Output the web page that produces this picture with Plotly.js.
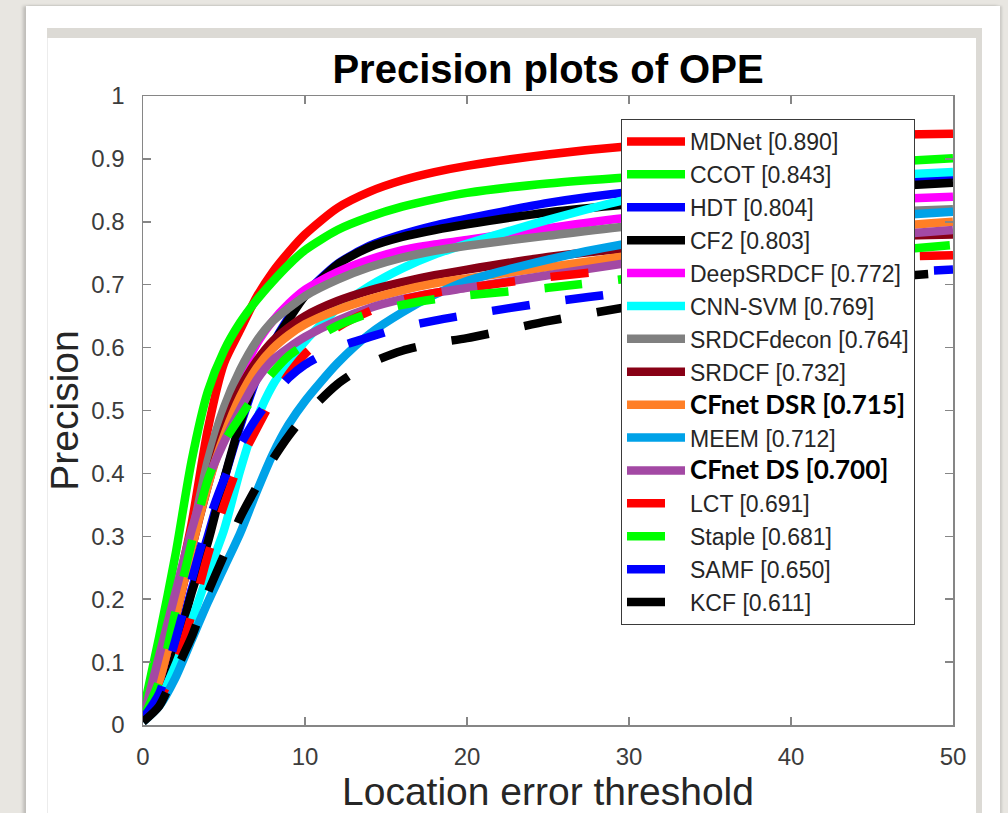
<!DOCTYPE html>
<html>
<head>
<meta charset="utf-8">
<script src="https://cdn.plot.ly/plotly-3.0.1.min.js"></script>
<style>
  html, body { margin: 0; padding: 0; width: 1008px; height: 813px; overflow: hidden; background: #e8e6e1; }
  .card { position: absolute; left: 26px; top: 6px; width: 974px; height: 820px; background: #ffffff;
          box-shadow: -3px 0 3px rgba(0,0,0,0.18), 2px 0 2px rgba(0,0,0,0.12); }
  .bandTop { position: absolute; left: 47px; top: 28px; width: 935px; height: 10px; background: #dcdad5; }
  .bandRight { position: absolute; left: 976px; top: 28px; width: 6px; height: 800px; background: #dcdad5; }
  .innerLeft { position: absolute; left: 47px; top: 38px; width: 1px; height: 800px; background: #ececec; }
  #chart { position: absolute; left: 0; top: 0; width: 1008px; height: 813px; }
</style>
</head>
<body>
<div class="card"></div>
<div class="bandTop"></div>
<div class="bandRight"></div>
<div class="innerLeft"></div>
<div id="chart"></div>
<script>
// Location error thresholds (x)
const thresholds = [0,1,2,3,4,5,6,7,8,9,10,12,14,16,18,20,25,30,35,40,45,50];

// Tracker names, scores, styles
const trackers = ['MDNet','CCOT','HDT','CF2','DeepSRDCF','CNN-SVM','SRDCFdecon','SRDCF','CFnet DSR','MEEM','CFnet DS','LCT','Staple','SAMF','KCF'];
const scores   = [0.890,0.843,0.804,0.803,0.772,0.769,0.764,0.732,0.715,0.712,0.700,0.691,0.681,0.650,0.611];
const colors   = ['#ff0000','#00ff00','#0000ff','#000000','#ff00ff','#00ffff','#808080','#880015','#ff7f27','#00a2e8','#a349a4','#ff0000','#00ff00','#0000ff','#000000'];
const dashed   = [false,false,false,false,false,false,false,false,false,false,false,true,true,true,true];
const boldName = [false,false,false,false,false,false,false,false,true,false,true,false,false,false,false];

// Precision values per tracker
const MDNet      = [0.01,0.08,0.20,0.32,0.47,0.575,0.628,0.68,0.72,0.752,0.78,0.822,0.848,0.866,0.879,0.889,0.907,0.92,0.928,0.934,0.938,0.94];
const CCOT       = [0.02,0.14,0.27,0.42,0.53,0.595,0.64,0.675,0.705,0.732,0.755,0.787,0.808,0.824,0.836,0.846,0.861,0.871,0.879,0.887,0.894,0.901];
const HDT        = [0.01,0.05,0.12,0.215,0.30,0.39,0.475,0.55,0.605,0.648,0.685,0.733,0.762,0.78,0.794,0.805,0.83,0.847,0.857,0.864,0.869,0.873];
const CF2        = [0.01,0.04,0.115,0.21,0.29,0.39,0.48,0.555,0.605,0.645,0.682,0.732,0.76,0.776,0.787,0.796,0.815,0.828,0.838,0.847,0.855,0.862];
const DeepSRDCF  = [0.01,0.07,0.17,0.28,0.39,0.48,0.55,0.605,0.642,0.67,0.692,0.72,0.74,0.755,0.764,0.771,0.79,0.807,0.818,0.828,0.835,0.84];
const CNNSVM     = [0.01,0.04,0.095,0.165,0.24,0.31,0.405,0.485,0.54,0.578,0.61,0.662,0.698,0.726,0.748,0.765,0.803,0.836,0.855,0.866,0.873,0.879];
const SRDCFdecon = [0.01,0.08,0.19,0.30,0.42,0.505,0.565,0.61,0.642,0.663,0.682,0.708,0.728,0.743,0.754,0.762,0.778,0.793,0.803,0.81,0.815,0.82];
const SRDCF      = [0.01,0.07,0.17,0.28,0.38,0.47,0.535,0.578,0.61,0.632,0.65,0.674,0.691,0.704,0.715,0.724,0.744,0.758,0.767,0.773,0.777,0.78];
const CFnetDSR   = [0.01,0.07,0.17,0.28,0.38,0.46,0.522,0.567,0.598,0.62,0.637,0.66,0.677,0.691,0.702,0.71,0.728,0.746,0.762,0.777,0.79,0.80];
const MEEM       = [0.005,0.03,0.075,0.135,0.195,0.25,0.305,0.37,0.43,0.478,0.515,0.575,0.622,0.656,0.684,0.706,0.74,0.766,0.784,0.798,0.808,0.816];
const CFnetDS    = [0.01,0.11,0.21,0.31,0.39,0.45,0.502,0.548,0.58,0.6,0.617,0.643,0.663,0.677,0.687,0.695,0.715,0.735,0.752,0.765,0.777,0.787];
const LCT        = [0.01,0.04,0.095,0.175,0.27,0.35,0.42,0.47,0.518,0.558,0.59,0.632,0.658,0.676,0.687,0.695,0.712,0.725,0.733,0.74,0.744,0.747];
const Staple     = [0.01,0.07,0.18,0.29,0.39,0.45,0.49,0.528,0.56,0.587,0.605,0.635,0.655,0.668,0.677,0.683,0.695,0.71,0.725,0.74,0.752,0.763];
const SAMF       = [0.01,0.05,0.135,0.23,0.32,0.39,0.445,0.488,0.523,0.552,0.573,0.60,0.617,0.632,0.643,0.652,0.672,0.688,0.70,0.71,0.718,0.724];
const KCF        = [0.005,0.03,0.085,0.14,0.21,0.27,0.33,0.378,0.422,0.46,0.492,0.542,0.575,0.595,0.607,0.615,0.642,0.665,0.685,0.70,0.71,0.72];

const series = [MDNet,CCOT,HDT,CF2,DeepSRDCF,CNNSVM,SRDCFdecon,SRDCF,CFnetDSR,MEEM,CFnetDS,LCT,Staple,SAMF,KCF];

const xTicks = [0,10,20,30,40,50];
const yTicks = [0,0.1,0.2,0.3,0.4,0.5,0.6,0.7,0.8,0.9,1];

const traces = trackers.map((name, i) => {
  const label = name + ' [' + scores[i].toFixed(3) + ']';
  return {
    x: thresholds,
    y: series[i],
    type: 'scatter',
    mode: 'lines',
    name: boldName[i]
      ? '<span style="font-family:Lato;font-size:26px;font-weight:bold;fill:#000">' + label + '</span>'
      : label,
    line: { color: colors[i], width: 8.5, dash: dashed[i] ? '38px,36px' : 'solid', shape: 'spline', smoothing: 0.7 },
    hoverinfo: 'skip'
  };
});

const axisCommon = {
  showgrid: false, zeroline: false,
  showline: true, linecolor: '#868686', linewidth: 1.5,
  mirror: 'ticks', ticks: 'inside', ticklen: 8, tickwidth: 1.5, tickcolor: '#868686',
  tickfont: { family: 'Liberation Sans, Arial, sans-serif', size: 24, color: '#3c3c3c' }
};

const layout = {
  width: 1008, height: 813,
  margin: { l: 143, r: 55, t: 96, b: 88, pad: 0 },
  paper_bgcolor: 'rgba(0,0,0,0)',
  plot_bgcolor: '#ffffff',
  showlegend: true,
  title: {
    text: 'Precision plots of OPE',
    font: { family: 'Liberation Sans, Arial, sans-serif', size: 40, color: '#000000', weight: 'bold' },
    x: 0.5, xanchor: 'center', xref: 'paper',
    y: 1 - 69/813, yanchor: 'middle', yref: 'container'
  },
  xaxis: Object.assign({}, axisCommon, {
    range: [0, 50], tickvals: xTicks, ticklabelstandoff: 10,
    title: { text: 'Location error threshold', standoff: 14,
             font: { family: 'Liberation Sans, Arial, sans-serif', size: 39, color: '#262626' } }
  }),
  yaxis: Object.assign({}, axisCommon, {
    range: [0, 1], tickvals: yTicks, ticklabelstandoff: 12,
    title: { text: 'Precision', standoff: 0,
             font: { family: 'Liberation Sans, Arial, sans-serif', size: 39, color: '#262626' } }
  }),
  legend: {
    x: (621-143)/810, y: (725-119)/629, xanchor: 'left', yanchor: 'top',
    bgcolor: '#ffffff', bordercolor: '#3a3a3a', borderwidth: 1,
    font: { family: 'Liberation Sans, Arial, sans-serif', size: 23, color: '#262626' },
    itemwidth: 58, traceorder: 'normal', tracegroupgap: 0
  }
};

Plotly.newPlot('chart', traces, layout, { staticPlot: true, displayModeBar: false });
</script>
</body>
</html>
